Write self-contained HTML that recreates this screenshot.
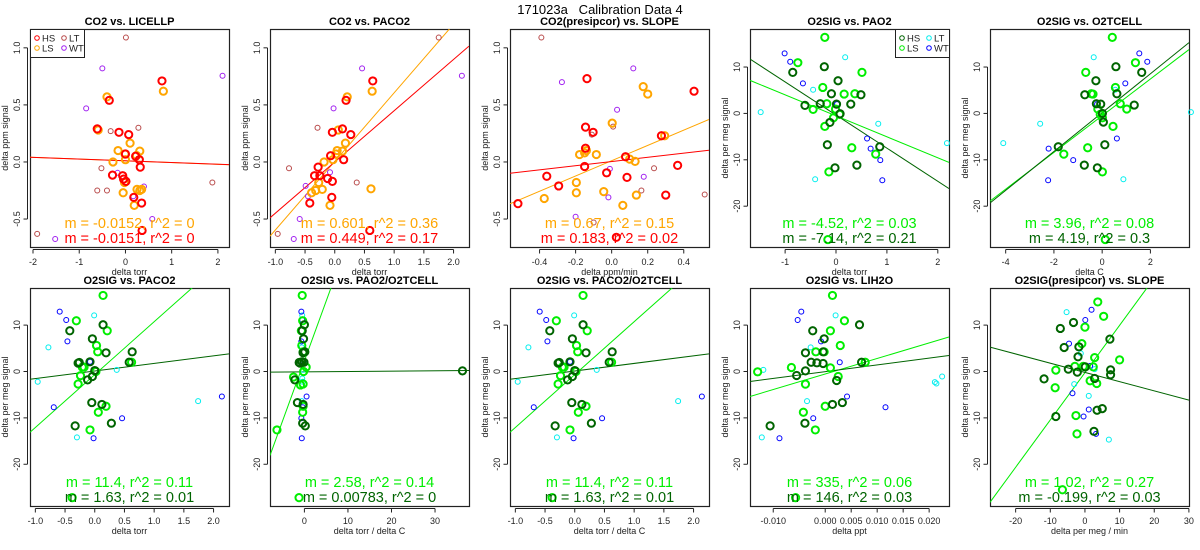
<!DOCTYPE html>
<html><head><meta charset="utf-8"><style>
body{margin:0;background:#fff;}
svg{display:block;font-family:"Liberation Sans",sans-serif;}
</style></head><body>
<svg id="chart" width="1200" height="550" viewBox="0 0 1200 550">
<text x="600" y="14" text-anchor="middle" font-size="13">171023a&#160;&#160;&#160;Calibration Data 4</text>
</svg>
<script>
// ---------- data ----------
const p1_HS_x=[0.79,-0.35,-0.61,-0.14,0.07,0,0.22,0.30,0.32,-0.28,-0.06,-0.04,0.01,0.18,0.35,0.36];
const p1_HS_y=[0.71,0.54,0.29,0.26,0.24,0.07,0.05,0.02,-0.045,-0.115,-0.12,-0.15,-0.17,-0.31,-0.36,-0.6];
const p1_LS_x=[0.82,-0.40,-0.59,0.10,-0.16,-0.01,0.31,0.24,-0.27,0,-0.02,0.25,0.35,0.31,-0.05,0.19];
const p1_LS_y=[0.62,0.57,0.28,0.165,0.10,0.07,0.095,0.057,0.0,0.02,-0.18,-0.24,-0.24,-0.25,-0.27,-0.38];
const p1_LT_x=[0.01,0.28,-0.32,-0.52,-0.61,1.88,-1.91,-0.40];
const p1_LT_y=[1.09,0.30,0.27,-0.055,-0.25,-0.18,-0.63,-0.25];
const p1_WT_x=[-0.5,-0.85,2.10,-0.17,0.40,0.17,0.58,-1.52];
const p1_WT_y=[0.82,0.47,0.755,-0.095,-0.215,-0.30,-0.5,-0.675];
const p1_fit_m=[-0.0152,-0.0151]; const p1_fit_b=[0.01,0.01]; const p1_fit_r2=[0,0];
const p2_HS_x=[0.64,0.19,0.13,-0.04,0.27,-0.07,0.15,-0.28,-0.34,-0.25,-0.12,-0.04,-0.05,-0.42,0.59];
const p2_HS_y=[0.71,0.54,0.29,0.26,0.24,0.055,0.02,-0.045,-0.12,-0.12,-0.145,-0.17,-0.31,-0.36,-0.6];
const p2_LS_x=[0.63,0.21,0.06,0.18,0.04,0.02,0.13,-0.18,-0.03,-0.27,-0.21,-0.32,-0.39,-0.08,0.61];
const p2_LS_y=[0.62,0.57,0.28,0.165,0.10,0.07,0.095,0.0,0.02,-0.18,-0.24,-0.25,-0.27,-0.38,-0.235];
const p2_LT_x=[1.75,-0.29,-0.77,0.37,-0.96];
const p2_LT_y=[1.09,0.30,-0.055,-0.18,-0.63];
const p2_WT_x=[0.46,-0.02,2.14,-0.08,-0.49,-0.45,-0.59,-0.69];
const p2_WT_y=[0.82,0.47,0.755,-0.09,-0.21,-0.3,-0.5,-0.675];
const p2_fit_m=[0.601,0.449]; const p2_fit_b=[0.005,0.0]; const p2_fit_r2=[0.36,0.17];
const p3_HS_x=[-0.137,0.457,-0.145,-0.103,-0.145,0.276,0.077,0.366,-0.15,-0.028,0.085,-0.36,-0.294,0.30,-0.52,0.026];
const p3_HS_y=[0.73,0.62,0.305,0.26,0.12,0.23,0.046,-0.03,-0.04,-0.095,-0.135,-0.125,-0.21,-0.29,-0.365,-0.66];
const p3_LS_x=[0.175,0.2,0.003,0.294,-0.14,-0.178,-0.085,-0.15,0.1,0.13,-0.196,-0.196,-0.044,0.137,-0.374,0.062];
const p3_LS_y=[0.66,0.595,0.34,0.23,0.10,0.065,0.065,0.08,0.025,0.005,-0.18,-0.27,-0.26,-0.29,-0.32,-0.38];
const p3_LT_x=[-0.39,0.008,-0.11,0.235,0.165,0.516,-0.1];
const p3_LT_y=[1.09,0.31,0.24,-0.055,-0.25,-0.285,-0.53];
const p3_WT_x=[0.12,-0.276,0.03,-0.01,0.178,-0.018,-0.2];
const p3_WT_y=[0.82,0.70,0.457,-0.06,-0.13,-0.31,-0.48];
const p3_fit_m=[0.67,0.183]; const p3_fit_b=[0.011,0.004]; const p3_fit_r2=[0.15,0.02];
const p4_HS_x=[-0.85,-0.23,0.04,-0.09,0.49,-0.61,-0.31,0.29,0.01,0.08,-0.12,-0.17,0.86,0.41,-0.02];
const p4_HS_y=[8.85,10.07,7.05,4.24,4.03,1.73,2.09,2.01,2.0,-0.07,-1.94,-6.76,-7.19,-11.15,-11.73];
const p4_LS_x=[-0.22,-0.75,0.51,-0.26,0.16,0.37,-0.45,-0.18,-0.01,-0.05,-0.22,0.31,0.78,-0.14,-0.16,0.07];
const p4_LS_y=[16.4,10.94,8.85,5.6,4.17,4.24,0.86,2.09,0.94,-0.94,-2.8,-7.4,-8.78,-12.6,-27.2,-0.2];
const p4_LT_x=[0.18,-0.45,-1.48,0.83,2.18,-0.41];
const p4_LT_y=[12.1,5.1,0.29,-2.23,-6.4,-14.2];
const p4_WT_x=[-1.01,-0.9,-0.65,0.02,0.61,0.68,0.87,0.91];
const p4_WT_y=[12.95,11.15,6.47,2.0,-5.4,-7.6,-10.07,-14.4];
const p4_fit_m=[-4.52,-7.14]; const p4_fit_b=[-0.52,-0.35]; const p4_fit_r2=[0.03,0.21];
const p5_HS_x=[0.57,1.64,-0.26,0.61,-0.72,1.33,-0.24,-0.06,0.01,0.05,0.11,-1.82,-0.74,-0.2];
const p5_HS_y=[10.07,8.85,7.05,4.24,4.03,1.8,2.09,2.0,0,-1.87,-6.76,-7.19,-11.15,-11.73];
const p5_LS_x=[0.42,1.38,-0.68,0.55,-0.38,-0.45,1.02,0.75,-0.18,0.01,0.45,-0.6,-1.59,0.01,0.13,-0.08];
const p5_LS_y=[16.4,10.94,8.85,5.6,4.17,4.24,0.94,2.09,0.94,-0.94,-2.8,-7.4,-8.78,-12.6,-27.2,-0.2];
const p5_LT_x=[-0.35,0.54,3.68,-2.57,-4.1,0.88];
const p5_LT_y=[12.1,5.1,0.29,-2.23,-6.4,-14.2];
const p5_WT_x=[1.54,1.87,0.96,-0.21,0.61,-2.22,-1.2,-2.24];
const p5_WT_y=[12.95,11.15,6.47,2.0,-5.4,-7.6,-10.07,-14.4];
const p5_fit_m=[3.96,4.19]; const p5_fit_b=[-0.49,0.17]; const p5_fit_r2=[0.08,0.3];
const p6_HS_x=[0.14,-0.42,-0.04,0.19,-0.26,-0.28,-0.08,0,0.58,0.63,-0.12,-0.05,0.12,0.28,-0.33,-0.04];
const p6_HS_y=[10.07,8.78,7.05,4.03,1.94,1.8,2.09,0.2,2.0,4.24,-1.8,-6.7,-7.1,-11.15,-11.73,-1.08];
const p6_LS_x=[0.14,-0.31,0.21,0.03,0.05,0.62,-0.21,0.02,-0.28,0.19,0.06,-0.08,-0.38,-0.24,-0.18];
const p6_LS_y=[16.4,10.94,8.78,5.6,4.24,2.0,0.94,0,-2.7,-7.5,-8.78,-12.6,-27.2,-0.9,0.94];
const p6_LT_x=[-0.01,-0.78,-0.96,0.37,1.74,-0.3];
const p6_LT_y=[12.1,5.2,-2.2,0.36,-6.4,-14.2];
const p6_WT_x=[-0.59,-0.48,-0.46,-0.08,0.46,-0.02,-0.69,2.14];
const p6_WT_y=[12.9,11.1,6.5,2.09,-10.07,-14.4,-7.7,-5.4];
const p6_fit_m=[11.4,1.63]; const p6_fit_b=[-0.67,0.11]; const p6_fit_r2=[0.11,0.01];
const p7_HS_x=[0.0,-0.5,-0.2,-0.3,-1.2,-1.0,-0.6,36.3,-0.1,0.1,-2.2,-1.6,-0.3,-0.4,0.2];
const p7_HS_y=[10.07,8.78,7.05,4.03,1.94,1.8,2.09,0.14,2.0,4.24,-1.8,-6.7,-7.1,-11.15,-11.73];
const p7_LS_x=[-0.5,-0.4,-0.7,-0.6,-0.3,-0.1,0.4,-0.2,-0.3,-0.3,-0.4,-6.3,-1.23,-2.5,-0.9];
const p7_LS_y=[16.4,10.94,8.78,5.6,4.24,4.24,0.94,0,-2.7,-7.5,-8.78,-12.6,-27.2,-1.2,-2.9];
const p7_LT_x=[-0.5,-0.6,-0.4,-0.3,-0.6,-0.5];
const p7_LT_y=[12.1,5.2,-2.2,0.36,-6.4,-1.5];
const p7_WT_x=[-0.7,-0.5,-0.7,-0.2,0.5,-0.7,-0.6,-0.4];
const p7_WT_y=[12.9,11.1,6.5,2.09,-5.4,-10.07,-14.4,-7.7];
const p7_fit_m=[2.58,0.00783]; const p7_fit_b=[2.28,-0.08]; const p7_fit_r2=[0.14,0];
const p9_HS_x=[0.0066,-0.0024,-0.0002,-0.0004,-0.0038,-0.0027,-0.0016,-0.0004,0.007,-0.0038,-0.0055,0.0022,0.0033,0.0014,-0.0039,-0.0106];
const p9_HS_y=[10.07,8.78,7.05,4.24,4.03,2.0,1.87,1.73,2.0,0.14,-0.86,-1.94,-6.7,-7.1,-11.15,-11.73];
const p9_LS_x=[0.0014,0.0037,0.001,0.0029,-0.0018,-0.0002,-0.0065,-0.013,0.001,0.0025,-0.0038,0,-0.0042,-0.0019,-0.0057,0.0077];
const p9_LS_y=[16.4,10.94,8.78,5.6,4.24,4.24,0.86,-0.07,0.79,-1.08,-2.73,-7.5,-8.78,-12.6,-27.2,2.0];
const p9_LT_x=[0.002,-0.0028,-0.0119,-0.0035,0.0211,-0.0122,0.0214,0.0225];
const p9_LT_y=[12.1,5.2,0.36,-6.4,-2.3,-14.2,-2.6,-1.08];
const p9_WT_x=[-0.0046,-0.0053,-0.0008,0.0028,0.0042,-0.0023,-0.0088,0.0116];
const p9_WT_y=[12.9,11.1,6.5,2.0,-5.4,-10.07,-14.4,-7.7];
const p9_fit_m=[335,146]; const p9_fit_b=[-0.54,-0.04]; const p9_fit_r2=[0.06,0.03];
const p10_HS_x=[-3.3,-7.1,7.2,-6,-1.75,-2,-4.8,0.1,7.4,7.4,-2.2,2.8,-8.4,3.5,5,2.6,-11.8];
const p10_HS_y=[10.57,9.28,6.98,5.18,5.32,3.17,0.5,1.0,0.36,-0.7,-0.14,-1.5,-9.7,-8.35,-8,-12.9,-1.6];
const p10_LS_x=[3.7,5.4,0,-0.9,2.8,10,-8.4,-2.9,-0.5,2.4,1.5,3.4,-8.6,-2.6,-2.3,-6.5];
const p10_LS_y=[15.0,11.9,9.57,6.0,3.0,2.5,0.3,1.1,1.1,1.0,-2.0,-2.6,-3.5,-9.5,-13.45,-25.5];
const p10_LT_x=[-5.3,-1.2,2.8,-3.1,1.1,6.9];
const p10_LT_y=[12.8,3.9,0.5,-2.73,-5.25,-14.7];
const p10_WT_x=[1.9,0.1,-4.6,1.5,-3.6,1.1,-0.4,3.2];
const p10_WT_y=[13.3,11.1,6.0,1.2,-4.7,-8.2,-9.7,-13.45];
const p10_fit_m=[1.02,-0.199]; const p10_fit_b=[-0.25,-0.2]; const p10_fit_r2=[0.27,0.03];

const co2Ticks=[-0.5,0.0,0.5,1.0];
const o2Ticks=[-20,-10,0,10];

// ---------- rendering ----------
const NS='http://www.w3.org/2000/svg';
const svg=document.getElementById('chart');
function mk(tag,attrs,parent){const e=document.createElementNS(NS,tag);for(const k in attrs)e.setAttribute(k,attrs[k]);(parent||svg).appendChild(e);return e;}
const CO2C={HS:'#ff0000',LS:'#ffa500',LT:'#b84a4a',WT:'#a020f0'};
const O2C={HS:'#006400',LS:'#00ee00',LT:'#00eeee',WT:'#0000ff'};
function fmt(v,dec){return v<0?'-'+Math.abs(v).toFixed(dec):v.toFixed(dec);}

const panels=[
 {id:'p1',title:'CO2 vs. LICELLP',L:30,T:29,xlim:[-2.065,2.24],ylim:[-0.745,1.165],xt:[-2,-1,0,1,2],xd:0,yt:co2Ticks,yd:1,xl:'delta torr',yl:'delta ppm signal',c:CO2C,
  d:{HS:[p1_HS_x,p1_HS_y],LS:[p1_LS_x,p1_LS_y],LT:[p1_LT_x,p1_LT_y],WT:[p1_WT_x,p1_WT_y]},m:p1_fit_m,b:p1_fit_b,r:p1_fit_r2,leg:'left'},
 {id:'p2',title:'CO2 vs. PACO2',L:270,T:29,xlim:[-1.09,2.26],ylim:[-0.745,1.165],xt:[-1,-0.5,0,0.5,1,1.5,2],xd:1,yt:co2Ticks,yd:1,xl:'delta torr',yl:'delta ppm signal',c:CO2C,
  d:{HS:[p2_HS_x,p2_HS_y],LS:[p2_LS_x,p2_LS_y],LT:[p2_LT_x,p2_LT_y],WT:[p2_WT_x,p2_WT_y]},m:p2_fit_m,b:p2_fit_b,r:p2_fit_r2},
 {id:'p3',title:'CO2(presipcor) vs. SLOPE',L:510,T:29,xlim:[-0.564,0.54],ylim:[-0.745,1.165],xt:[-0.4,-0.2,0,0.2,0.4],xd:1,yt:co2Ticks,yd:1,xl:'delta ppm/min',yl:'delta ppm signal',c:CO2C,
  d:{HS:[p3_HS_x,p3_HS_y],LS:[p3_LS_x,p3_LS_y],LT:[p3_LT_x,p3_LT_y],WT:[p3_WT_x,p3_WT_y]},m:p3_fit_m,b:p3_fit_b,r:p3_fit_r2},
 {id:'p4',title:'O2SIG vs. PAO2',L:750,T:29,xlim:[-1.69,2.22],ylim:[-28.8,18.2],xt:[-1,0,1,2],xd:0,yt:o2Ticks,yd:0,xl:'delta torr',yl:'delta per meg signal',c:O2C,
  d:{HS:[p4_HS_x,p4_HS_y],LS:[p4_LS_x,p4_LS_y],LT:[p4_LT_x,p4_LT_y],WT:[p4_WT_x,p4_WT_y]},m:p4_fit_m,b:p4_fit_b,r:p4_fit_r2,leg:'right'},
 {id:'p5',title:'O2SIG vs. O2TCELL',L:990,T:29,xlim:[-4.65,3.6],ylim:[-28.8,18.2],xt:[-4,-2,0,2],xd:0,yt:o2Ticks,yd:0,xl:'delta C',yl:'delta per meg signal',c:O2C,
  d:{HS:[p5_HS_x,p5_HS_y],LS:[p5_LS_x,p5_LS_y],LT:[p5_LT_x,p5_LT_y],WT:[p5_WT_x,p5_WT_y]},m:p5_fit_m,b:p5_fit_b,r:p5_fit_r2},
 {id:'p6',title:'O2SIG vs. PACO2',L:30,T:288,xlim:[-1.09,2.26],ylim:[-29.0,18.0],xt:[-1,-0.5,0,0.5,1,1.5,2],xd:1,yt:o2Ticks,yd:0,xl:'delta torr',yl:'delta per meg signal',c:O2C,
  d:{HS:[p6_HS_x,p6_HS_y],LS:[p6_LS_x,p6_LS_y],LT:[p6_LT_x,p6_LT_y],WT:[p6_WT_x,p6_WT_y]},m:p6_fit_m,b:p6_fit_b,r:p6_fit_r2},
 {id:'p7',title:'O2SIG vs. PAO2/O2TCELL',L:270,T:288,xlim:[-7.9,37.8],ylim:[-29.0,18.0],xt:[0,10,20,30],xd:0,yt:o2Ticks,yd:0,xl:'delta torr / delta C',yl:'delta per meg signal',c:O2C,
  d:{HS:[p7_HS_x,p7_HS_y],LS:[p7_LS_x,p7_LS_y],LT:[p7_LT_x,p7_LT_y],WT:[p7_WT_x,p7_WT_y]},m:p7_fit_m,b:p7_fit_b,r:p7_fit_r2},
 {id:'p8',title:'O2SIG vs. PACO2/O2TCELL',L:510,T:288,xlim:[-1.09,2.26],ylim:[-29.0,18.0],xt:[-1,-0.5,0,0.5,1,1.5,2],xd:1,yt:o2Ticks,yd:0,xl:'delta torr / delta C',yl:'delta per meg signal',c:O2C,
  d:{HS:[p6_HS_x,p6_HS_y],LS:[p6_LS_x,p6_LS_y],LT:[p6_LT_x,p6_LT_y],WT:[p6_WT_x,p6_WT_y]},m:p6_fit_m,b:p6_fit_b,r:p6_fit_r2},
 {id:'p9',title:'O2SIG vs. LIH2O',L:750,T:288,xlim:[-0.01447,0.02382],ylim:[-29.0,18.0],xt:[-0.01,0,0.005,0.01,0.015,0.02],xd:3,yt:o2Ticks,yd:0,xl:'delta ppt',yl:'delta per meg signal',c:O2C,
  d:{HS:[p9_HS_x,p9_HS_y],LS:[p9_LS_x,p9_LS_y],LT:[p9_LT_x,p9_LT_y],WT:[p9_WT_x,p9_WT_y]},m:p9_fit_m,b:p9_fit_b,r:p9_fit_r2},
 {id:'p10',title:'O2SIG(presipcor) vs. SLOPE',L:990,T:288,xlim:[-27.4,30.03],ylim:[-29.0,18.0],xt:[-20,-10,0,10,20,30],xd:0,yt:o2Ticks,yd:0,xl:'delta per meg / min',yl:'delta per meg signal',c:O2C,
  d:{HS:[p10_HS_x,p10_HS_y],LS:[p10_LS_x,p10_LS_y],LT:[p10_LT_x,p10_LT_y],WT:[p10_WT_x,p10_WT_y]},m:p10_fit_m,b:p10_fit_b,r:p10_fit_r2}
];

panels.forEach(p=>{
  const W=199,H=218,L=p.L,T=p.T,R=L+W,B=T+H;
  const g=mk('g',{});
  
  
  const sx=v=>L+(v-p.xlim[0])/(p.xlim[1]-p.xlim[0])*W;
  const sy=v=>B-(v-p.ylim[0])/(p.ylim[1]-p.ylim[0])*H;
  const cid='clip-'+p.id;
  const cp=mk('clipPath',{id:cid},g);mk('rect',{x:L,y:T,width:W,height:H},cp);
  const t=mk('text',{x:L+W/2,y:T-4,'text-anchor':'middle','font-size':'11','font-weight':'bold'},g);t.textContent=p.title;
  
  
  const frame=mk('rect',{x:L+0.5,y:T+0.5,width:W,height:H,fill:'none',stroke:'#222','stroke-width':1.2},g);
  
  
  const xa=mk('g',{},g);
  
  
  mk('line',{x1:sx(p.xt[0]),x2:sx(p.xt[p.xt.length-1]),y1:B+2.5,y2:B+2.5,stroke:'#222'},xa);
  p.xt.forEach(v=>{const x=sx(v);mk('line',{x1:x,x2:x,y1:B+2.5,y2:B+6.5,stroke:'#222'},xa);
    const tl=mk('text',{x:x,y:B+18,'text-anchor':'middle','font-size':'9','fill':'#222'},xa);tl.textContent=fmt(v,p.xd);
    
    });
  const xl=mk('text',{x:L+W/2,y:B+28,'text-anchor':'middle','font-size':'9','fill':'#222'},g);xl.textContent=p.xl;
  
  
  const ya=mk('g',{},g);
  
  
  mk('line',{x1:L-2.5,x2:L-2.5,y1:sy(p.yt[0]),y2:sy(p.yt[p.yt.length-1]),stroke:'#222'},ya);
  p.yt.forEach(v=>{const y=sy(v);mk('line',{x1:L-2.5,x2:L-6.5,y1:y,y2:y,stroke:'#222'},ya);
    const tl=mk('text',{x:0,y:0,'text-anchor':'middle','font-size':'9','fill':'#222',transform:`translate(${L-10},${y}) rotate(-90)`},ya);tl.textContent=fmt(v,p.yd);
    
    });
  const yl=mk('text',{x:0,y:0,'text-anchor':'middle','font-size':'9','fill':'#222',transform:`translate(${L-22},${T+H/2}) rotate(-90)`},g);yl.textContent=p.yl;
  
  
  const lineCols=[p.c.LS,p.c.HS];
  p.m.forEach((m,i)=>{const x0=p.xlim[0],x1=p.xlim[1];
    const ln=mk('line',{x1:sx(x0),y1:sy(m*x0+p.b[i]),x2:sx(x1),y2:sy(m*x1+p.b[i]),stroke:lineCols[i],'stroke-width':1,'clip-path':`url(#${cid})`},g);
    
    });
  ['LT','WT','LS','HS'].forEach(k=>{const xs=p.d[k][0],ys=p.d[k][1];const thick=(k==='HS'||k==='LS');
    xs.forEach((x,i)=>{const c=mk('circle',{cx:sx(x),cy:sy(ys[i]),r:thick?3.6:2.5,fill:'none',stroke:p.c[k],'stroke-width':thick?2:1},g);
      
      });});
  p.m.forEach((m,i)=>{const a=mk('text',{x:L+W/2,y:B-(i===0?19:4),'text-anchor':'middle','font-size':'14.5',fill:lineCols[i]},g);
    a.textContent='m = '+m+', r^2 = '+p.r[i];
    
    });
  if(p.leg){const lx=p.leg==='left'?L:R-54;const lg=mk('g',{},g);
    
    
    mk('rect',{x:lx+0.5,y:T+0.5,width:54,height:28,fill:'#fff',stroke:'#222'},lg);
    [['HS',0,0],['LS',0,1],['LT',1,0],['WT',1,1]].forEach(([k,c,r])=>{const ex=lx+7+c*27,ey=T+9+r*10;
      const ci=mk('circle',{cx:ex,cy:ey,r:2.3,fill:'none',stroke:p.c[k],'stroke-width':1},lg);
      
      
      const lt=mk('text',{x:ex+5,y:ey+3.5,'font-size':'9.5',fill:'#222'},lg);lt.textContent=k;
      
      });}
});
</script>
</body></html>
